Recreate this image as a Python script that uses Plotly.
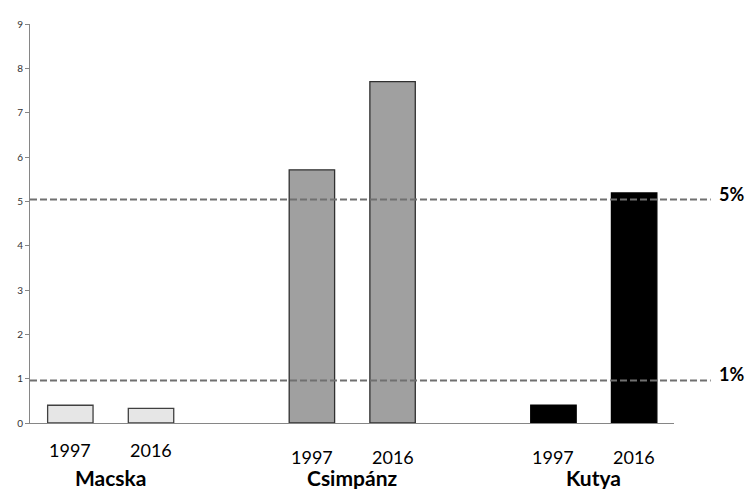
import plotly.graph_objects as go

categories = ["Macska", "Csimpánz", "Kutya"]
years = ["1997", "2016"]
values_1997 = [0.40, 5.71, 0.40]
values_2016 = [0.33, 7.70, 5.19]
bar_colors = ["#e6e6e6", "#a0a0a0", "#000000"]
line_colors = ["#404040", "#303030", "#000000"]
thresholds = [0.96, 5.04]
threshold_labels = ["1%", "5%"]
y_ticks = list(range(0, 10))

idx = list(range(len(categories)))
fig = go.Figure()
for yr, vals in zip(years, [values_1997, values_2016]):
    fig.add_trace(go.Bar(
        x=idx, y=vals, name=yr,
        marker=dict(color=bar_colors, line=dict(color=line_colors, width=1.3)),
        showlegend=False, hoverinfo="skip",
    ))

bargap = 0.332
bargroupgap = 0.437
slot = (1 - bargap) / 2
font = "Lato, 'Open Sans', sans-serif"

annotations = []
year_y = [-0.068, -0.084, -0.084]
for i, c in enumerate(categories):
    for k, yr in enumerate(years):
        off = (k - 0.5) * slot
        annotations.append(dict(x=i + off, y=year_y[i], xref="x", yref="paper", text=yr,
                                yanchor="middle", showarrow=False,
                                font=dict(size=18, color="#000", family=font)))
    annotations.append(dict(x=i, y=-0.137, xref="x", yref="paper", text="<b>%s</b>" % c,
                            yanchor="middle", showarrow=False,
                            font=dict(size=21, color="#000", family=font)))

shapes = []
for t, lab in zip(thresholds, threshold_labels):
    shapes.append(dict(type="line", xref="paper", yref="y", x0=0, x1=1.057, y0=t, y1=t,
                       line=dict(color="#707070", width=2, dash="7px,3px")))
    annotations.append(dict(x=1.112, y=t, xref="paper", yref="y", text="<b>%s</b>" % lab,
                            xanchor="right", yanchor="middle", yshift=6, showarrow=False,
                            font=dict(size=18, color="#000", family=font)))

fig.update_layout(
    width=748, height=481,
    margin=dict(l=20, r=82, t=9, b=66),
    paper_bgcolor="white", plot_bgcolor="white",
    barmode="group", bargap=bargap, bargroupgap=bargroupgap,
    xaxis=dict(range=[-0.334, 2.332], showticklabels=False, showgrid=False, zeroline=False,
               showline=True, linecolor="#868686", linewidth=1, ticks=""),
    yaxis=dict(range=[0, 9], tickvals=y_ticks, showgrid=False, zeroline=False,
               showline=True, linecolor="#868686", linewidth=1, ticks="outside",
               ticklen=4, tickcolor="#868686",
               tickfont=dict(size=10, color="#333333", family=font)),
    shapes=shapes, annotations=annotations,
)

fig.write_html("out.html")
